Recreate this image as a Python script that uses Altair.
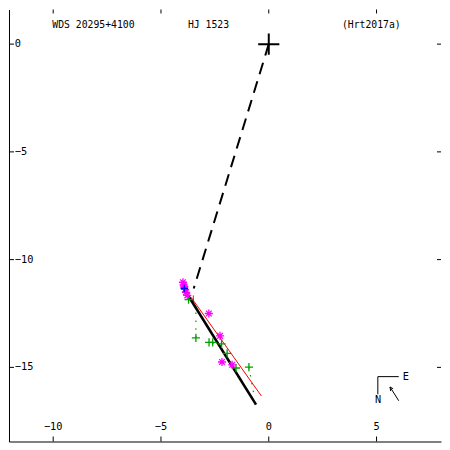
import altair as alt
import pandas as pd

W, H = 433, 433
XDOM = [-12.05, 7.99]
YDOM = [-18.44, 1.607]
K = W / 449.0  # reference pixel -> plot pixel

# ---- data ----
primary_x = [0.0]
primary_y = [0.0]

# dashed line from primary to a point on the orbit
dash_x1, dash_y1, dash_x2, dash_y2 = [0.0], [0.0], [-3.48], [-11.34]

# black orbit arc (appears as a line)
orbit_x1, orbit_y1, orbit_x2, orbit_y2 = [-4.02], [-11.21], [-0.59], [-16.73]

# red line + small red marks
red_x1 = [-3.60, -3.50, -3.66]
red_y1 = [-11.75, -11.66, -11.86]
red_x2 = [-0.34, -3.50, -3.50]
red_y2 = [-16.33, -12.00, -11.86]

# magenta asterisks
star_x = [-3.98, -3.95, -3.92, -3.88, -3.84, -3.78, -2.78, -2.26, -2.17, -1.70]
star_y = [-11.05, -11.18, -11.25, -11.38, -11.52, -11.66, -12.50, -13.54, -14.75, -14.88]

# green pluses
plus_x = [-3.72, -3.38, -2.77, -2.60, -2.19, -1.93, -1.52, -0.92]
plus_y = [-11.86, -13.63, -13.84, -13.84, -13.91, -14.35, -15.03, -14.99]

# blue plus
blue_x = [-3.92]
blue_y = [-11.34]

# green dotted O-C lines
oc_x1 = [-3.38, -0.92, -2.60]
oc_y1 = [-13.63, -14.99, -13.84]
oc_x2 = [-3.38, -0.67, -2.46]
oc_y2 = [-12.23, -16.37, -14.10]

# compass
comp_x1 = [5.06, 5.06, 6.03, 5.625, 5.625]
comp_y1 = [-15.43, -15.43, -16.55, -15.91, -15.91]
comp_x2 = [6.03, 5.06, 5.625, 5.655, 5.77]
comp_y2 = [-15.43, -16.25, -15.91, -16.10, -15.99]
comp_lab = ["E", "N"]
comp_lab_x = [6.22, 4.93]
comp_lab_y = [-15.43, -16.52]

# ticks / labels
xticks = [-10, -5, 0, 5]
yticks = [0, -5, -10, -15]

titles = ["WDS 20295+4100", "HJ 1523", "(Hrt2017a)"]
title_px = [45, 186, 346]

FONT = "DejaVu Sans Mono"
FS = 9.8

xs = alt.Scale(domain=XDOM, nice=False, zero=False)
ys = alt.Scale(domain=YDOM, nice=False, zero=False)
ax_x = alt.Axis(domain=True, domainColor="black", domainWidth=1, ticks=False,
                labels=False, grid=False, title="")
ax_y = alt.Axis(domain=True, domainColor="black", domainWidth=1, ticks=False,
                labels=False, grid=False, title="")


def X(f):
    return alt.X(f, type="quantitative", scale=xs, axis=ax_x)


def Y(f):
    return alt.Y(f, type="quantitative", scale=ys, axis=ax_y)


def segs(x1, y1, x2, y2):
    return pd.DataFrame({"x": x1, "y": y1, "x2": x2, "y2": y2})


orbit = alt.Chart(segs(orbit_x1, orbit_y1, orbit_x2, orbit_y2)).mark_rule(
    color="black", strokeWidth=2.6).encode(x=X("x"), y=Y("y"), x2="x2", y2="y2")

dashed = alt.Chart(segs(dash_x1, dash_y1, dash_x2, dash_y2)).mark_rule(
    color="black", strokeWidth=2, strokeDash=[12, 7.5]).encode(
    x=X("x"), y=Y("y"), x2="x2", y2="y2")

red = alt.Chart(segs(red_x1, red_y1, red_x2, red_y2)).mark_rule(
    color="#ff0000", strokeWidth=1).encode(x=X("x"), y=Y("y"), x2="x2", y2="y2")

oc = alt.Chart(segs(oc_x1, oc_y1, oc_x2, oc_y2)).mark_rule(
    color="#00a000", strokeWidth=1.2, strokeDash=[1.5, 6.5]).encode(
    x=X("x"), y=Y("y"), x2="x2", y2="y2")

PLUS = "M-1,0L1,0M0,-1L0,1"
STAR = "M-1,0L1,0M0,-1L0,1M-0.7,-0.7L0.7,0.7M-0.7,0.7L0.7,-0.7"

stars = alt.Chart(pd.DataFrame({"x": star_x, "y": star_y})).mark_point(
    shape=STAR, filled=False, color="#ff00ff", strokeWidth=1.3, size=66, opacity=1).encode(
    x=X("x"), y=Y("y"))

pluses = alt.Chart(pd.DataFrame({"x": plus_x, "y": plus_y})).mark_point(
    shape=PLUS, filled=False, color="#00a000", strokeWidth=1.3, size=66, opacity=1).encode(
    x=X("x"), y=Y("y"))

blue = alt.Chart(pd.DataFrame({"x": blue_x, "y": blue_y})).mark_point(
    shape=PLUS, filled=False, color="#0000ff", strokeWidth=1.3, size=56, opacity=1).encode(
    x=X("x"), y=Y("y"))

primary = alt.Chart(pd.DataFrame({"x": primary_x, "y": primary_y})).mark_point(
    shape=PLUS, filled=False, color="black", strokeWidth=2, size=450, opacity=1).encode(
    x=X("x"), y=Y("y"))

compass = alt.Chart(segs(comp_x1, comp_y1, comp_x2, comp_y2)).mark_rule(
    color="black", strokeWidth=1).encode(x=X("x"), y=Y("y"), x2="x2", y2="y2")

comp_text = alt.Chart(pd.DataFrame({"x": comp_lab_x, "y": comp_lab_y, "t": comp_lab})).mark_text(
    font=FONT, fontSize=FS + 0.5, color="black", align="left", baseline="middle").encode(
    x=X("x"), y=Y("y"), text="t:N")

tdf_x = pd.DataFrame({"v": xticks, "lab": [str(v).replace("-", "\u2212") for v in xticks]})
tdf_y = pd.DataFrame({"v": yticks, "lab": [str(v).replace("-", "\u2212") for v in yticks]})

top_ticks = alt.Chart(tdf_x).mark_rule(color="black").encode(
    x=X("v"), y=alt.value(0), y2=alt.value(4))
bot_ticks = alt.Chart(tdf_x).mark_rule(color="black").encode(
    x=X("v"), y=alt.value(H - 5), y2=alt.value(H))
left_ticks = alt.Chart(tdf_y).mark_rule(color="black").encode(
    y=Y("v"), x=alt.value(0), x2=alt.value(5))
right_ticks = alt.Chart(tdf_y).mark_rule(color="black").encode(
    y=Y("v"), x=alt.value(W - 4), x2=alt.value(W))

bot_labels = alt.Chart(tdf_x).mark_text(
    font=FONT, fontSize=FS + 0.5, color="black", align="center", baseline="middle").encode(
    x=X("v"), y=alt.value(434 * K), text="lab:N")
left_labels = alt.Chart(tdf_y).mark_text(
    font=FONT, fontSize=FS + 0.5, color="black", align="left", baseline="middle").encode(
    y=Y("v"), x=alt.value(6 * K), text="lab:N")

title_df = pd.DataFrame({"t": titles, "px": [p * K for p in title_px]})
title_text = alt.Chart(title_df).mark_text(
    font=FONT, fontSize=FS, color="black", align="left", baseline="middle").encode(
    x=alt.X("px:Q", scale=None), y=alt.value(16 * K), text="t:N")

chart = alt.layer(
    oc, red, orbit, dashed, pluses, stars, blue, primary, compass, comp_text,
    top_ticks, bot_ticks, left_ticks, right_ticks, bot_labels, left_labels, title_text,
).properties(
    width=W, height=H, padding=0, background="white"
).configure_view(stroke=None)

chart.save("out.html", embed_options={"renderer": "svg", "actions": False})
